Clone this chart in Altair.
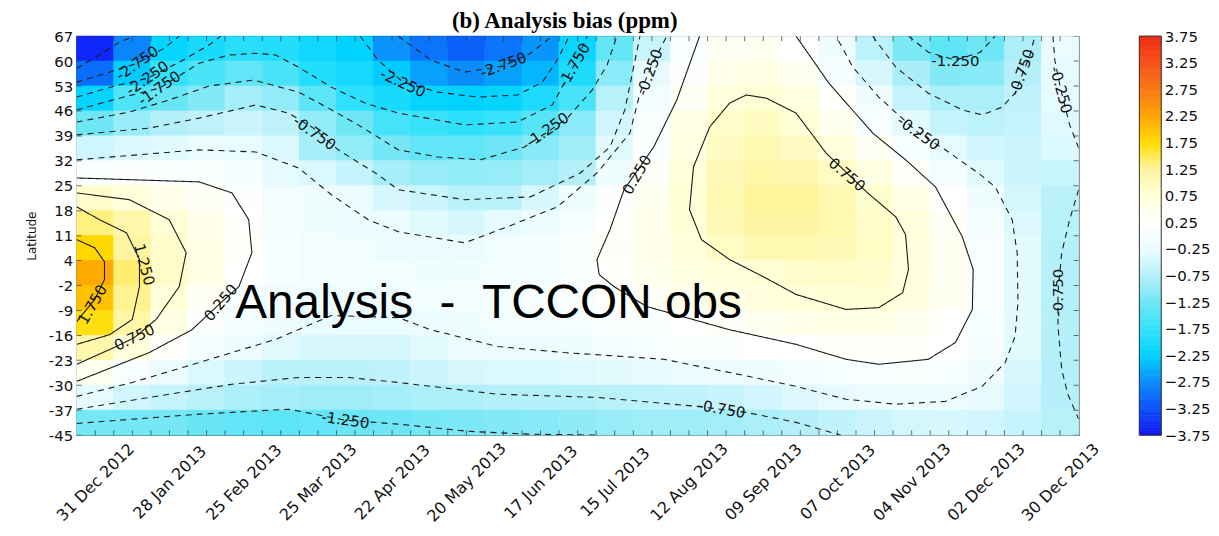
import json
import altair as alt
import pandas as pd

# ---------------- text ----------------
title_text = "(b) Analysis bias (ppm)"
annotation_text = "Analysis\u00a0\u00a0-\u00a0\u00a0TCCON obs"
annotation_day = [155.4]
annotation_lat = [-12.0]

# ---------------- axes ----------------
start_date = "2012-12-24"
end_date = "2014-01-06"
x_tick_dates = ["2012-12-31", "2013-01-28", "2013-02-25", "2013-03-25", "2013-04-22",
                "2013-05-20", "2013-06-17", "2013-07-15", "2013-08-12", "2013-09-09",
                "2013-10-07", "2013-11-04", "2013-12-02", "2013-12-30"]
y_tick_values = [-45, -38, -31, -24, -17, -10, -3, 4, 11, 18, 25, 32, 39, 46, 53, 60, 67]
y_tick_labels = ["-45", "-37", "-30", "-23", "-16", "-9", "-2", "4", "11", "18", "25",
                 "32", "39", "46", "53", "60", "67"]

# colour bar
cbar_values = [-3.75, -3.25, -2.75, -2.25, -1.75, -1.25, -0.75, -0.25,
               0.25, 0.75, 1.25, 1.75, 2.25, 2.75, 3.25, 3.75]
cbar_colors = ["#1414fa", "#0a50fa", "#0a8cfa", "#00d2ff", "#32e1fa", "#6ee6f5", "#b4f0fa", "#ebfcff",
               "#ffffff", "#ffffd7", "#fff5a0", "#ffdc00", "#ffa500", "#fa7814", "#f55019", "#f02814"]

# ---------------- gridded bias (14-day columns from 24 Dec 2012, 7 deg rows from 67N) ----------------
cell_days = 14
bias_60_67 = [-3.6, -2.8, -2.2, -2.0, -1.85, -1.9, -2.1, -2.25, -2.7, -2.95, -3.1, -2.95, -2.68, -2.15, -1.34, -0.57, 0.08, 0.40, 0.41, 0.24, -0.16, -0.68, -1.16, -1.38, -1.24, -0.81, -0.26]
bias_53_60 = [-3.0, -2.3, -1.75, -1.55, -1.35, -1.55, -1.9, -2.05, -2.3, -2.6, -2.75, -2.6, -2.45, -1.95, -1.04, -0.29, 0.21, 0.52, 0.6, 0.41, -0.01, -0.44, -0.83, -1.09, -1.07, -0.74, -0.30]
bias_46_53 = [-2.2, -1.5, -1.3, -1.1, -0.85, -1.0, -1.4, -1.8, -2.0, -2.2, -2.25, -2.2, -1.97, -1.57, -0.72, -0.09, 0.37, 0.70, 0.77, 0.62, 0.30, -0.15, -0.59, -0.80, -0.82, -0.65, -0.30]
bias_39_46 = [-1.25, -0.95, -0.75, -0.65, -0.55, -0.65, -1.0, -1.25, -1.6, -1.7, -1.8, -1.7, -1.43, -1.05, -0.48, 0.09, 0.56, 0.87, 0.95, 0.76, 0.47, 0.05, -0.32, -0.59, -0.68, -0.60, -0.36]
bias_32_39 = [-0.5, -0.4, -0.35, -0.25, -0.27, -0.4, -0.85, -1.0, -1.2, -1.35, -1.35, -1.25, -1.06, -0.89, -0.34, 0.17, 0.61, 0.95, 1.09, 0.94, 0.69, 0.39, 0.02, -0.29, -0.48, -0.55, -0.39]
bias_25_32 = [0.15, 0.2, 0.15, 0.1, 0.0, -0.3, -0.4, -0.6, -0.85, -0.95, -1.0, -0.95, -0.87, -0.74, -0.12, 0.35, 0.73, 1.05, 1.18, 1.13, 0.92, 0.62, 0.30, -0.05, -0.34, -0.53, -0.56]
bias_18_25 = [0.85, 0.7, 0.5, 0.35, 0.2, -0.05, -0.15, -0.25, -0.45, -0.55, -0.7, -0.7, -0.43, -0.13, 0.21, 0.45, 0.75, 1.09, 1.27, 1.27, 1.10, 0.82, 0.55, 0.25, -0.12, -0.46, -0.70]
bias_11_18 = [1.35, 1.15, 0.75, 0.5, 0.28, 0.0, -0.15, -0.2, -0.25, -0.35, -0.45, -0.3, -0.19, 0.04, 0.29, 0.49, 0.76, 1.05, 1.22, 1.22, 1.11, 0.90, 0.66, 0.38, 0.0, -0.38, -0.72]
bias_04_11 = [1.8, 1.25, 0.85, 0.55, 0.3, 0.05, -0.05, -0.1, -0.2, -0.25, -0.25, -0.1, -0.02, 0.11, 0.33, 0.51, 0.69, 0.92, 1.07, 1.1, 1.04, 0.91, 0.68, 0.41, 0.08, -0.32, -0.73]
bias_m03_04 = [2.2, 1.4, 0.9, 0.6, 0.25, 0.05, -0.05, -0.1, -0.1, -0.15, -0.15, -0.1, -0.02, 0.11, 0.30, 0.46, 0.61, 0.69, 0.77, 0.83, 0.88, 0.84, 0.66, 0.41, 0.08, -0.32, -0.73]
bias_m10_m03 = [2.0, 1.3, 0.75, 0.35, 0.05, -0.1, -0.2, -0.15, -0.15, -0.1, -0.05, 0.0, 0.04, 0.12, 0.26, 0.37, 0.50, 0.62, 0.68, 0.73, 0.77, 0.76, 0.64, 0.41, 0.08, -0.32, -0.73]
bias_m17_m10 = [1.7, 1.2, 0.6, 0.2, 0.0, -0.15, -0.28, -0.25, -0.27, -0.2, -0.15, -0.1, -0.06, 0.03, 0.12, 0.18, 0.23, 0.32, 0.42, 0.51, 0.58, 0.57, 0.46, 0.28, 0.03, -0.32, -0.73]
bias_m24_m17 = [1.15, 0.7, 0.3, 0.0, -0.2, -0.35, -0.45, -0.45, -0.45, -0.35, -0.25, -0.25, -0.21, -0.16, -0.08, 0.02, 0.09, 0.17, 0.24, 0.28, 0.3, 0.3, 0.3, 0.22, -0.01, -0.34, -0.73]
bias_m31_m24 = [0.45, 0.05, -0.2, -0.4, -0.55, -0.7, -0.7, -0.7, -0.65, -0.55, -0.45, -0.4, -0.4, -0.36, -0.31, -0.3, -0.26, -0.22, -0.14, -0.04, 0.03, 0.08, 0.1, 0.04, -0.14, -0.41, -0.75]
bias_m38_m31 = [-0.3, -0.5, -0.6, -0.7, -0.8, -0.85, -0.9, -0.9, -0.85, -0.8, -0.8, -0.75, -0.75, -0.75, -0.71, -0.66, -0.65, -0.58, -0.49, -0.38, -0.29, -0.23, -0.21, -0.21, -0.29, -0.48, -0.73]
bias_m45_m38 = [-1.2, -1.2, -1.2, -1.3, -1.35, -1.4, -1.35, -1.3, -1.25, -1.2, -1.15, -1.1, -1.06, -1.01, -0.96, -0.91, -0.9, -0.87, -0.82, -0.74, -0.64, -0.54, -0.47, -0.45, -0.48, -0.58, -0.72]

bias_rows = [(67, 60, bias_60_67), (60, 53, bias_53_60), (53, 46, bias_46_53), (46, 39, bias_39_46),
             (39, 32, bias_32_39), (32, 25, bias_25_32), (25, 18, bias_18_25), (18, 11, bias_11_18),
             (11, 4, bias_04_11), (4, -3, bias_m03_04), (-3, -10, bias_m10_m03), (-10, -17, bias_m17_m10),
             (-17, -24, bias_m24_m17), (-24, -31, bias_m31_m24), (-31, -38, bias_m38_m31), (-38, -45, bias_m45_m38)]

# ---------------- contour lines (days since 24 Dec 2012, latitude) ----------------
c01 = (-3.25, [0, 8.6, 16.1, 21.8], [58.0, 61.7, 65.3, 67.0])
c02 = (-2.75, [0, 12.4, 22.9, 33.0, 38.7], [54.1, 56.9, 59.4, 63.6, 67.0])
c03 = (-2.25, [0, 14.3, 26.7, 38.7, 49.9, 54.4], [49.9, 53.0, 55.2, 59.7, 64.5, 67.0])
c04 = (-1.75, [0, 16.1, 31.2, 46.2, 57.4, 67.6, 75.1, 83.7, 96.1, 108.9, 121.3, 146.4, 166.3, 179.4, 187.7, 192.6],
       [46.3, 49.6, 52.4, 59.4, 61.7, 62.2, 61.7, 58.3, 52.7, 48.2, 45.4, 42.1, 42.9, 47.7, 58.9, 67.0])
c05 = (-1.25, [0, 19.9, 34.9, 49.9, 66.8, 83.7, 95.0, 106.2, 121.3, 136.3, 152.4, 168.9, 177.6, 185.1, 194.5, 200.1, 203.8],
       [42.9, 45.7, 49.1, 53.0, 54.7, 51.3, 46.8, 42.1, 35.1, 33.1, 32.3, 35.9, 40.1, 44.0, 51.9, 58.9, 67.0])
c06 = (-0.75, [0, 27.4, 46.2, 67.6, 80.0, 89.3, 98.7, 113.7, 121.3, 146.4, 171.2, 190.0, 201.2, 206.8, 212.5],
       [39.3, 41.2, 44.0, 47.7, 45.4, 41.2, 35.1, 28.1, 23.9, 21.1, 21.9, 28.6, 35.9, 46.3, 67.0])
c07 = (-0.25, [0, 46.2, 67.6, 83.7, 96.1, 110.0, 121.3, 146.4, 162.5, 181.3, 196.3, 208.7, 212.5, 217.0, 222.6],
       [32.3, 35.1, 34.5, 30.0, 22.5, 15.5, 12.1, 9.0, 13.5, 19.1, 28.6, 39.8, 51.0, 58.9, 67.0])
c08 = (0.25, [0, 46.2, 58.6, 64.9, 66.1, 61.2, 54.4, 43.5, 27.4, 0],
       [27.2, 26.1, 23.0, 15.5, 6.2, -3.3, -7.8, -15.4, -21.8, -29.9])
c09 = (0.75, [0, 19.9, 34.9, 41.3, 38.7, 30.0, 21.8, 15.0, 0],
       [23.0, 21.1, 15.5, 6.2, -3.3, -12.5, -17.6, -20.1, -25.1])
c10 = (1.25, [0, 8.6, 18.8, 23.7, 23.7, 21.0, 12.4, 0],
       [19.1, 15.5, 11.8, 4.3, -3.3, -12.5, -16.8, -19.5])
c11 = (1.75, [0, 6.8, 10.5, 10.5, 6.8, 0], [9.9, 7.6, 3.7, -1.3, -6.9, -13.1])
c12 = (-0.25, [0, 21.0, 41.3, 58.6, 75.1, 96.1, 121.3, 133.6, 158.8, 183.9, 221.5, 246.3, 271.4, 290.2, 309.0,
               327.7, 341.6, 350.3, 354.0, 355.1, 354.8, 352.9, 346.5, 340.1, 327.7, 317.6, 302.6, 292.8, 286.5],
       [-34.1, -30.2, -25.7, -21.8, -18.1, -11.4, -12.0, -15.4, -20.1, -21.8, -23.7, -27.4, -31.3, -34.9, -36.3,
        -35.5, -31.3, -24.6, -17.3, -7.8, 6.2, 15.5, 24.7, 28.6, 35.1, 39.8, 49.9, 58.3, 67.0])
c13 = (0.25, [235.0, 226.4, 217.7, 206.5, 201.2, 196.3, 197.1, 202.7, 215.1, 246.3, 271.4, 290.2, 302.6, 321.3,
              331.5, 337.9, 338.2, 334.1, 324.0, 312.7, 300.3, 283.8, 271.4],
       [67.0, 49.1, 35.9, 23.9, 12.7, 4.3, 0.1, -3.3, -8.9, -15.4, -19.5, -23.7, -25.1, -23.7,
        -19.0, -9.7, 1.5, 10.7, 24.7, 32.3, 39.8, 53.8, 67.0])
c14 = (0.75, [252.6, 260.2, 271.4, 282.7, 298.4, 309.0, 312.7, 313.8, 311.6, 302.6, 290.2, 271.4, 259.0, 246.3,
              235.7, 231.2, 232.7, 238.8, 246.3, 252.6],
       [50.5, 49.6, 45.4, 34.2, 23.0, 16.3, 11.3, 1.5, -5.0, -9.2, -9.7, -5.5, -0.5, 4.3,
        9.9, 18.3, 30.3, 41.5, 48.2, 50.5])
c15 = (-0.75, [300.3, 309.0, 321.3, 334.1, 341.6, 349.1, 354.0, 359.6, 361.5],
       [67.0, 58.3, 51.0, 46.3, 44.9, 47.1, 51.0, 61.7, 67.0])
c16 = (-1.25, [313.8, 321.3, 331.5, 340.9, 346.5], [67.0, 62.5, 60.3, 62.5, 67.0])
c17 = (-0.25, [368.3, 369.0, 371.3, 374.6, 378.0], [67.0, 60.3, 51.9, 42.1, 35.6])
c18 = (-0.75, [378.0, 374.6, 371.6, 370.2, 370.2, 371.6, 373.9, 378.0],
       [23.9, 15.5, 6.2, -5.0, -14.5, -26.5, -33.5, -40.5])
c19 = (-0.75, [0, 27.4, 58.6, 83.7, 102.5, 121.3, 158.8, 196.3, 233.9, 252.6, 271.4, 288.3],
       [-37.7, -34.4, -30.7, -28.8, -28.8, -30.2, -33.5, -34.4, -36.9, -38.6, -41.4, -45.0])
c20 = (-1.25, [0, 46.2, 80.0, 101.4, 121.3, 147.5, 170.1, 196.3],
       [-41.7, -39.1, -37.7, -40.8, -41.9, -43.9, -44.7, -45.0])
c21 = (-2.25, [107.0, 113.7, 123.1, 136.3, 151.3, 166.3, 175.7, 181.3, 185.8],
       [67.0, 60.3, 54.1, 51.3, 49.9, 50.5, 54.1, 60.3, 67.0])
c22 = (-2.75, [121.3, 133.6, 146.4, 161.0, 171.2, 179.4], [67.0, 60.3, 56.9, 58.6, 62.2, 67.0])
contours = [c01, c02, c03, c04, c05, c06, c07, c08, c09, c10, c11, c12, c13, c14, c15, c16, c17, c18, c19, c20, c21, c22]

# contour labels
label_texts = ["-2.750", "-2.250", "-1.750", "-0.750", "-2.250", "-2.750", "-1.750", "-1.250", "-0.250", "0.250",
               "0.750", "-0.250", "-1.250", "-0.750", "-0.250", "-0.750", "1.250", "1.750", "0.750", "0.250",
               "-0.750", "-1.250"]
label_days = [22.9, 26.7, 31.2, 89.7, 123.1, 161.0, 187.7, 177.6, 216.2, 211.4,
              290.6, 317.6, 331.5, 356.6, 371.3, 370.2, 25.5, 6.0, 21.8, 54.4,
              243.3, 101.4]
label_lats = [59.4, 55.2, 52.4, 39.8, 53.8, 58.9, 58.9, 40.7, 56.9, 28.1,
              28.1, 39.8, 60.0, 56.9, 51.9, -5.0, 2.9, -8.3, -17.6, -7.8,
              -37.7, -40.8]
label_angles = [-35, -35, -35, 35, 25, -20, -60, -35, -70, -60,
                40, 35, 0, -70, 75, -90, 75, -60, -25, -50,
                10, 8]

# ---------------- build tables ----------------
t0 = pd.Timestamp(start_date)


def to_date(days):
    return (t0 + pd.Timedelta(days=float(days))).strftime("%Y-%m-%dT%H:%M:%S")


heat_records = []
for lat_hi, lat_lo, row in bias_rows:
    for i, v in enumerate(row):
        heat_records.append({"d0": to_date(i * cell_days), "d1": to_date((i + 1) * cell_days),
                             "lat_hi": lat_hi, "lat_lo": lat_lo, "v": v, "v_edge": v})
heat_df = pd.DataFrame(heat_records)

line_records = []
for cid, (level, days, lats) in enumerate(contours):
    for k, (dd, la) in enumerate(zip(days, lats)):
        line_records.append({"cid": cid, "seq": k, "date": to_date(dd), "lat": la,
                             "style": "dashed" if level < 0 else "solid"})
line_df = pd.DataFrame(line_records)

lab_df = pd.DataFrame({"date": [to_date(d) for d in label_days], "lat": label_lats,
                       "text": label_texts, "angle": [a % 360 for a in label_angles]})
ann_df = pd.DataFrame({"date": [to_date(d) for d in annotation_day], "lat": annotation_lat,
                       "text": [annotation_text]})

end_days = (pd.Timestamp(end_date) - t0).days
week_ticks = [to_date(d) for d in range(7, end_days, 7)]
xt_df = pd.DataFrame([{"date": d, "lat": la} for d in week_ticks for la in (y_tick_values[0], y_tick_values[-1])])
yt_df = pd.DataFrame([{"date": d, "lat": la} for la in y_tick_values for d in (to_date(0), to_date(end_days))])

# colour-bar ramp: each colour-bar interval split into thin bands
bar_records = []
for a, b in zip(cbar_values[:-1], cbar_values[1:]):
    n = 12
    for k in range(n):
        lo = a + (b - a) * k / n
        hi = a + (b - a) * (k + 1) / n
        bar_records.append({"lo": lo, "hi": hi, "mid": (lo + hi) / 2, "mid_edge": (lo + hi) / 2})
bar_df = pd.DataFrame(bar_records)


def dt(s):
    p = pd.Timestamp(s)
    return alt.DateTime(year=p.year, month=p.month, date=p.day)


xs = alt.Scale(domain=[dt(start_date), dt(end_date)])
ys = alt.Scale(domain=[y_tick_values[0], y_tick_values[-1]], nice=False, zero=False)

x_axis = alt.Axis(values=[dt(s) for s in x_tick_dates], format="%d %b %Y", labelAngle=-45,
                  labelAlign="center", labelBaseline="middle", labelPadding=47, labelFontSize=16,
                  labelFont="DejaVu Sans", labelColor="#111", labelFlush=False, labelOverlap=False,
                  ticks=False, tickSize=0, domain=False, grid=False, title=None)
y_axis = alt.Axis(values=y_tick_values,
                  labelExpr=json.dumps(y_tick_labels) + "[round((datum.value - (" + str(y_tick_values[0]) + ")) / 7)]",
                  labelFontSize=15, labelFont="DejaVu Sans", labelColor="#111", labelPadding=4,
                  labelFlush=False, labelOverlap=False,
                  ticks=False, tickSize=0, domain=False, grid=False, title="Latitude",
                  titleFont="DejaVu Sans", titleFontSize=12, titleFontWeight="normal",
                  titleColor="#111", titlePadding=10)

color_scale = alt.Scale(domain=cbar_values, range=cbar_colors, interpolate="rgb")

heat = alt.Chart(heat_df).mark_rect(strokeWidth=0.8).encode(
    x=alt.X("d0:T", scale=xs, axis=x_axis, title=None),
    x2="d1:T",
    y=alt.Y("lat_hi:Q", scale=ys, axis=y_axis, title="Latitude"),
    y2="lat_lo:Q",
    fill=alt.Fill("v:Q", scale=color_scale, legend=None),
    stroke=alt.Stroke("v_edge:Q", scale=color_scale, legend=None),
)

lines = alt.Chart(line_df).mark_line(strokeWidth=1.1, color="#1a1a1a", clip=True).encode(
    x=alt.X("date:T", scale=xs, axis=x_axis, title=None),
    y=alt.Y("lat:Q", scale=ys, axis=y_axis, title="Latitude"),
    detail="cid:N",
    order="seq:Q",
    strokeDash=alt.StrokeDash("style:N", scale=alt.Scale(domain=["dashed", "solid"], range=[[6, 5], [1, 0]]),
                              legend=None),
)

labels = alt.Chart(lab_df).mark_text(font="DejaVu Sans", fontSize=15, color="#111").encode(
    x=alt.X("date:T", scale=xs, axis=x_axis, title=None),
    y=alt.Y("lat:Q", scale=ys, axis=y_axis, title="Latitude"),
    text="text:N",
    angle=alt.Angle("angle:Q", scale=None),
)

annot = alt.Chart(ann_df).mark_text(font="Liberation Sans", fontSize=48, color="black",
                                    align="center", baseline="alphabetic").encode(
    x=alt.X("date:T", scale=xs, axis=x_axis, title=None),
    y=alt.Y("lat:Q", scale=ys, axis=y_axis, title="Latitude"),
    text="text:N",
)

xticks = alt.Chart(xt_df).mark_tick(orient="vertical", size=10, thickness=1, color="#333", clip=True).encode(
    x=alt.X("date:T", scale=xs, axis=x_axis, title=None),
    y=alt.Y("lat:Q", scale=ys, axis=y_axis, title="Latitude"),
)
yticks = alt.Chart(yt_df).mark_tick(orient="horizontal", size=10, thickness=1, color="#333", clip=True).encode(
    x=alt.X("date:T", scale=xs, axis=x_axis, title=None),
    y=alt.Y("lat:Q", scale=ys, axis=y_axis, title="Latitude"),
)

main = alt.layer(heat, lines, labels, annot, xticks, yticks)

# colour bar drawn to the right of the plot area, with its own scale and a right-hand axis
plot_w, plot_h = 1007, 401
bar_left, bar_w = 1068, 22
cbar_scale = alt.Scale(domain=[cbar_values[0], cbar_values[-1]], nice=False, zero=False)
cbar_axis = alt.Axis(orient="right", offset=bar_left + bar_w - plot_w, values=cbar_values, format=".2f",
                     labelFontSize=15, labelFont="DejaVu Sans", labelColor="#111", labelPadding=3,
                     labelFlush=False, labelOverlap=False, ticks=False, tickSize=0, domain=False,
                     grid=False, title=None)
cbar = alt.Chart(bar_df).mark_rect(strokeWidth=0.6, clip=False).encode(
    x=alt.value(bar_left), x2=alt.value(bar_left + bar_w),
    y=alt.Y("lo:Q", scale=cbar_scale, axis=cbar_axis, title=None),
    y2="hi:Q",
    fill=alt.Fill("mid:Q", scale=color_scale, legend=None),
    stroke=alt.Stroke("mid_edge:Q", scale=color_scale, legend=None),
)
cbar_frame = alt.Chart(pd.DataFrame({"lo": [cbar_values[0]], "hi": [cbar_values[-1]]})).mark_rect(
    fill=None, stroke="#333", strokeWidth=1, clip=False).encode(
    x=alt.value(bar_left), x2=alt.value(bar_left + bar_w),
    y=alt.Y("lo:Q", scale=cbar_scale, axis=cbar_axis, title=None),
    y2="hi:Q",
)
cbar_layer = alt.layer(cbar, cbar_frame)

chart = alt.layer(main, cbar_layer).resolve_scale(
    y="independent", fill="independent", stroke="independent"
).properties(
    width=plot_w, height=plot_h,
    title=alt.TitleParams(text=title_text, font="Liberation Serif", fontSize=23, fontWeight="bold",
                          color="black", anchor="middle", frame="group", dx=-13, dy=31, offset=4,
                          baseline="bottom"),
    autosize=alt.AutoSizeParams(type="none"),
    padding={"left": 69, "top": 27, "right": 133, "bottom": 100},
).configure_view(stroke="#333", strokeWidth=1.2)

chart.save("out.html", embed_options={"renderer": "svg", "actions": False})
